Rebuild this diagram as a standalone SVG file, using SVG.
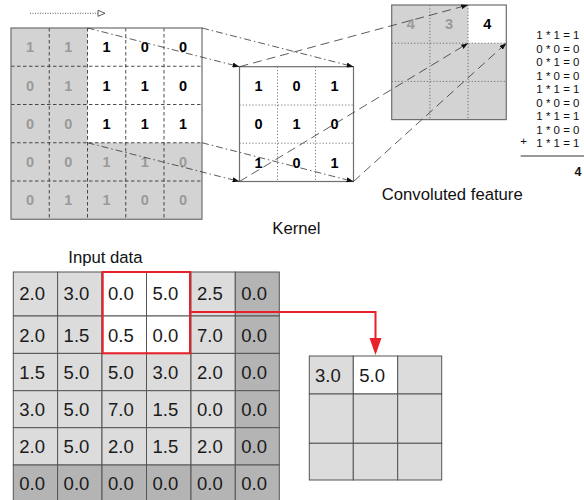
<svg xmlns="http://www.w3.org/2000/svg" width="584" height="500" viewBox="0 0 584 500">
<style>
text{font-family:"Liberation Sans",Arial,sans-serif}
.gb{fill:#d3d3d3}
.bd{fill:none;stroke:#6e6e6e;stroke-width:1.2}
.dl{stroke:#222;stroke-width:0.8;stroke-dasharray:3.5 2.5;fill:none}
.dt{stroke:#555;stroke-width:0.8;stroke-dasharray:1.2 2;fill:none}
.bn{font-size:14.5px;font-weight:bold;text-anchor:middle}
.k{fill:#000}
.g{fill:#9a9a9a}
.eq{font-size:11.5px;text-anchor:end;fill:#111}
.lbl{font-size:16.7px;fill:#111}
.c1{fill:#dcdcdc;stroke:#555;stroke-width:1}
.c2{fill:#b4b4b4;stroke:#555;stroke-width:1}
.c0{fill:#fff;stroke:#555;stroke-width:1}
.num{font-size:18.5px;fill:#1a1a1a}
.dd{stroke:#333;stroke-width:0.8;stroke-dasharray:7 3 1.5 3;fill:none}
.ds{stroke:#333;stroke-width:0.8;stroke-dasharray:9 5;fill:none}
</style>
<defs>
<marker id="ah" markerWidth="7" markerHeight="5" refX="7" refY="2.5" orient="auto" markerUnits="userSpaceOnUse"><path d="M0,0 L7,2.5 L0,5 z" fill="#111"/></marker>
</defs>

<g id="stride-arrow">
<line x1="30" y1="13.3" x2="98" y2="13.3" stroke="#333" stroke-width="0.8" stroke-dasharray="1 1.5"/>
<polygon points="98,10.3 105,13.3 98,16.3" fill="#fff" stroke="#333" stroke-width="0.8"/>
</g>

<g id="input-top">
<rect x="11" y="28" width="191" height="191.25" class="gb"/>
<rect x="87.5" y="28" width="114.5" height="114.75" fill="#fff"/>
<path class="dl" d="M49.25,28V219.25M87.5,28V219.25M125.75,28V219.25M164,28V219.25M11,66.25H202M11,104.5H202M11,142.75H202M11,181H202"/>
<rect x="11" y="28" width="191" height="191.25" class="bd"/>
<g class="bn">
<text x="30.1" y="52.3" class="g">1</text><text x="68.4" y="52.3" class="g">1</text><text x="106.6" y="52.3" class="k">1</text><text x="144.9" y="52.3" class="k">0</text><text x="183.1" y="52.3" class="k">0</text>
<text x="30.1" y="90.5" class="g">0</text><text x="68.4" y="90.5" class="g">1</text><text x="106.6" y="90.5" class="k">1</text><text x="144.9" y="90.5" class="k">1</text><text x="183.1" y="90.5" class="k">0</text>
<text x="30.1" y="128.8" class="g">0</text><text x="68.4" y="128.8" class="g">0</text><text x="106.6" y="128.8" class="k">1</text><text x="144.9" y="128.8" class="k">1</text><text x="183.1" y="128.8" class="k">1</text>
<text x="30.1" y="167" class="g">0</text><text x="68.4" y="167" class="g">0</text><text x="106.6" y="167" class="g">1</text><text x="144.9" y="167" class="g">1</text><text x="183.1" y="167" class="g">0</text>
<text x="30.1" y="205.3" class="g">0</text><text x="68.4" y="205.3" class="g">1</text><text x="106.6" y="205.3" class="g">1</text><text x="144.9" y="205.3" class="g">0</text><text x="183.1" y="205.3" class="g">0</text>
</g>
</g>

<g id="kernel">
<rect x="239.5" y="66.7" width="114" height="114.8" fill="#fff"/>
<path class="dt" d="M277.5,66.7V181.5M315.5,66.7V181.5M239.5,105H353.5M239.5,143.2H353.5"/>
<rect x="239.5" y="66.7" width="114" height="114.8" class="bd"/>
<g class="bn k">
<text x="258.5" y="91">1</text><text x="296.5" y="91">0</text><text x="334.5" y="91">1</text>
<text x="258.5" y="129.3">0</text><text x="296.5" y="129.3">1</text><text x="334.5" y="129.3">0</text>
<text x="258.5" y="167.5">1</text><text x="296.5" y="167.5">0</text><text x="334.5" y="167.5">1</text>
</g>
</g>

<g id="feature">
<rect x="391.7" y="5" width="114.6" height="114.6" class="gb"/>
<rect x="468.1" y="5" width="38.2" height="38.2" fill="#fff"/>
<path class="dt" d="M429.9,5V119.6M468.1,5V119.6M391.7,43.2H506.3M391.7,81.4H506.3"/>
<rect x="391.7" y="5" width="114.6" height="114.6" class="bd"/>
<text x="410.8" y="29.3" class="bn g">4</text>
<text x="449" y="29.3" class="bn g">3</text>
<text x="487.2" y="29.3" class="bn k">4</text>
</g>

<g id="equations">
<text x="579.5" y="39" class="eq">1 * 1 = 1</text>
<text x="579.5" y="52.5" class="eq">0 * 0 = 0</text>
<text x="579.5" y="66" class="eq">0 * 1 = 0</text>
<text x="579.5" y="79.5" class="eq">1 * 0 = 0</text>
<text x="579.5" y="93" class="eq">1 * 1 = 1</text>
<text x="579.5" y="106.5" class="eq">0 * 0 = 0</text>
<text x="579.5" y="120" class="eq">1 * 1 = 1</text>
<text x="579.5" y="133.5" class="eq">1 * 0 = 0</text>
<text x="579.5" y="147" class="eq">1 * 1 = 1</text>
<text x="527" y="145" class="eq">+</text>
<line x1="520.7" y1="156" x2="584" y2="156" stroke="#333" stroke-width="1"/>
<text x="581.5" y="176" font-size="12.5" font-weight="bold" text-anchor="end" fill="#111">4</text>
</g>

<g id="labels">
<text x="296.4" y="234" class="lbl" text-anchor="middle">Kernel</text>
<text x="381.7" y="200" class="lbl">Convoluted feature</text>
<text x="68.3" y="263" class="lbl">Input data</text>
</g>

<g id="input-bottom">
<rect x="13.3" y="272" width="44.3" height="44" class="c1"/><rect x="57.6" y="272" width="44.4" height="44" class="c1"/><rect x="102" y="272" width="44.5" height="44" class="c0"/><rect x="146.5" y="272" width="44.5" height="44" class="c0"/><rect x="191" y="272" width="44.3" height="44" class="c1"/><rect x="235.3" y="272" width="44" height="44" class="c2"/>
<rect x="13.3" y="316" width="44.3" height="37.4" class="c1"/><rect x="57.6" y="316" width="44.4" height="37.4" class="c1"/><rect x="102" y="316" width="44.5" height="37.4" class="c0"/><rect x="146.5" y="316" width="44.5" height="37.4" class="c0"/><rect x="191" y="316" width="44.3" height="37.4" class="c1"/><rect x="235.3" y="316" width="44" height="37.4" class="c2"/>
<rect x="13.3" y="353.4" width="44.3" height="37.3" class="c1"/><rect x="57.6" y="353.4" width="44.4" height="37.3" class="c1"/><rect x="102" y="353.4" width="44.5" height="37.3" class="c1"/><rect x="146.5" y="353.4" width="44.5" height="37.3" class="c1"/><rect x="191" y="353.4" width="44.3" height="37.3" class="c1"/><rect x="235.3" y="353.4" width="44" height="37.3" class="c2"/>
<rect x="13.3" y="390.7" width="44.3" height="37" class="c1"/><rect x="57.6" y="390.7" width="44.4" height="37" class="c1"/><rect x="102" y="390.7" width="44.5" height="37" class="c1"/><rect x="146.5" y="390.7" width="44.5" height="37" class="c1"/><rect x="191" y="390.7" width="44.3" height="37" class="c1"/><rect x="235.3" y="390.7" width="44" height="37" class="c2"/>
<rect x="13.3" y="427.7" width="44.3" height="37.3" class="c1"/><rect x="57.6" y="427.7" width="44.4" height="37.3" class="c1"/><rect x="102" y="427.7" width="44.5" height="37.3" class="c1"/><rect x="146.5" y="427.7" width="44.5" height="37.3" class="c1"/><rect x="191" y="427.7" width="44.3" height="37.3" class="c1"/><rect x="235.3" y="427.7" width="44" height="37.3" class="c2"/>
<rect x="13.3" y="465" width="44.3" height="37" class="c2"/><rect x="57.6" y="465" width="44.4" height="37" class="c2"/><rect x="102" y="465" width="44.5" height="37" class="c2"/><rect x="146.5" y="465" width="44.5" height="37" class="c2"/><rect x="191" y="465" width="44.3" height="37" class="c2"/><rect x="235.3" y="465" width="44" height="37" class="c2"/>
<g class="num">
<text x="19.3" y="300.3">2.0</text><text x="63.6" y="300.3">3.0</text><text x="108" y="300.3">0.0</text><text x="152.5" y="300.3">5.0</text><text x="197" y="300.3">2.5</text><text x="241.3" y="300.3">0.0</text>
<text x="19.3" y="341.5">2.0</text><text x="63.6" y="341.5">1.5</text><text x="108" y="341.5">0.5</text><text x="152.5" y="341.5">0.0</text><text x="197" y="341.5">7.0</text><text x="241.3" y="341.5">0.0</text>
<text x="19.3" y="378.8">1.5</text><text x="63.6" y="378.8">5.0</text><text x="108" y="378.8">5.0</text><text x="152.5" y="378.8">3.0</text><text x="197" y="378.8">2.0</text><text x="241.3" y="378.8">0.0</text>
<text x="19.3" y="416">3.0</text><text x="63.6" y="416">5.0</text><text x="108" y="416">7.0</text><text x="152.5" y="416">1.5</text><text x="197" y="416">0.0</text><text x="241.3" y="416">0.0</text>
<text x="19.3" y="453">2.0</text><text x="63.6" y="453">5.0</text><text x="108" y="453">2.0</text><text x="152.5" y="453">1.5</text><text x="197" y="453">2.0</text><text x="241.3" y="453">0.0</text>
<text x="19.3" y="490">0.0</text><text x="63.6" y="490">0.0</text><text x="108" y="490">0.0</text><text x="152.5" y="490">0.0</text><text x="197" y="490">0.0</text><text x="241.3" y="490">0.0</text>
</g>
<rect x="102.7" y="272" width="87.3" height="81.3" fill="none" stroke="#e8202a" stroke-width="2"/>
</g>

<g id="output">
<rect x="309.3" y="356" width="44" height="38" class="c1"/><rect x="353.3" y="356" width="44.4" height="38" class="c0"/><rect x="397.7" y="356" width="44" height="38" class="c1"/>
<rect x="309.3" y="394" width="44" height="49.3" class="c1"/><rect x="353.3" y="394" width="44.4" height="49.3" class="c1"/><rect x="397.7" y="394" width="44" height="49.3" class="c1"/>
<rect x="309.3" y="443.3" width="44" height="36.7" class="c1"/><rect x="353.3" y="443.3" width="44.4" height="36.7" class="c1"/><rect x="397.7" y="443.3" width="44" height="36.7" class="c1"/>
<text x="315" y="381.7" class="num">3.0</text>
<text x="359.3" y="381.7" class="num">5.0</text>
</g>

<g id="connectors">
<line x1="87.5" y1="28" x2="239.5" y2="66.7" class="dd" marker-end="url(#ah)"/>
<line x1="202" y1="28" x2="353.5" y2="66.7" class="dd" marker-end="url(#ah)"/>
<line x1="87.5" y1="142.75" x2="239.5" y2="181.5" class="dd" marker-end="url(#ah)"/>
<line x1="202" y1="142.75" x2="353.5" y2="181.5" class="dd" marker-end="url(#ah)"/>
<line x1="239.5" y1="66.7" x2="468.1" y2="5" class="ds" marker-end="url(#ah)"/>
<line x1="239.5" y1="181.5" x2="468.1" y2="43.2" class="ds" marker-end="url(#ah)"/>
<line x1="353.5" y1="181.5" x2="506.3" y2="43.2" class="ds" marker-end="url(#ah)"/>
<polyline points="190,312 375.5,312 375.5,339" fill="none" stroke="#e8202a" stroke-width="2"/>
<polygon points="369.5,338 381.5,338 375.5,355" fill="#e8202a"/>
</g>
</svg>
